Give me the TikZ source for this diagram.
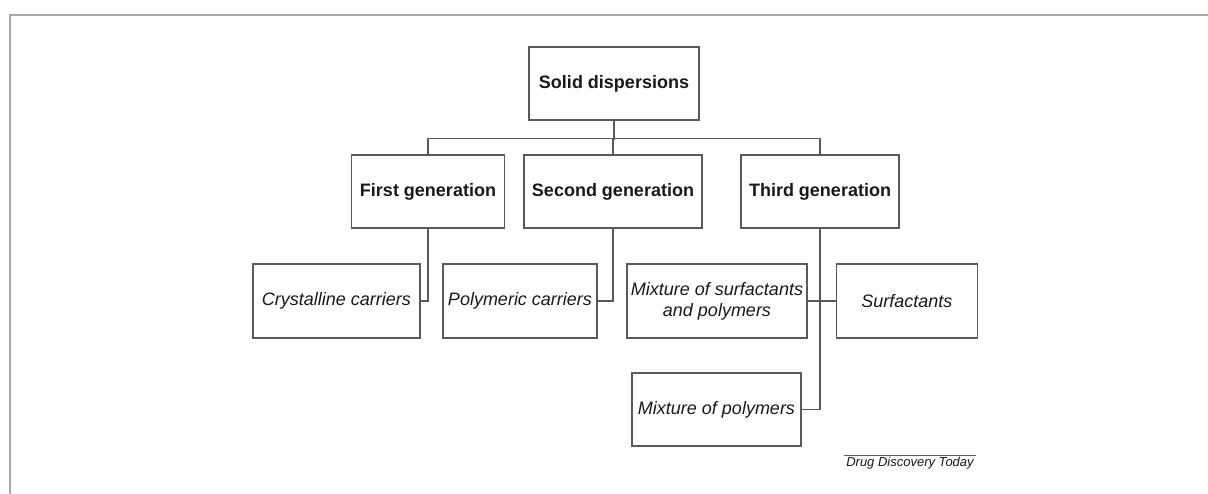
\documentclass[tikz,border=0pt]{standalone}
\usepackage{fontspec}
\setmainfont{Liberation Sans}
\usetikzlibrary{positioning}
\definecolor{framegray}{HTML}{A8A8A8}
\definecolor{boxgray}{HTML}{5A5A5A}
\tikzset{gen/.style={draw=boxgray,font=\fontsize{18}{21}\selectfont\bfseries,minimum height=73pt,inner sep=2pt}}
\tikzset{kind/.style={draw=boxgray,font=\fontsize{18}{21}\selectfont\itshape,minimum height=74pt,inner sep=2pt,align=center}}

\begin{document}
\begin{tikzpicture}[x=1pt,y=-1pt,line width=1.4pt,text=black!90]
        \useasboundingbox (0,0) rectangle (1208,494);
        \draw[framegray,line width=2pt] (10,494) -- (10,15) -- (1208,15);
        \node[gen,minimum width=170pt] (sd) at (614,83.5) {Solid dispersions};
        \node[gen,minimum width=153pt] (g1) at (428,191.5) {First generation};
        \node[gen,minimum width=178pt] (g2) at (613,191.5) {Second generation};
        \node[gen,minimum width=158pt] (g3) at (820,191.5) {Third generation};
        \node[kind,minimum width=167pt] (cc)  at (336.5,301) {Crystalline carriers};
        \node[kind,minimum width=154pt] (pc)  at (520,301) {Polymeric carriers};
        \node[kind,minimum width=180pt] (msp) at (717,301) {Mixture of surfactants\\and polymers};
        \node[kind,minimum width=141pt] (sf)  [right=28pt of msp] {Surfactants};
        \node[kind,minimum width=169pt,minimum height=73pt] (mp) at (716.5,409.5) {Mixture of polymers};
        \path[draw=boxgray]
            (sd.south) -- ++(0,19)
            (g1.north) -- ++(0,-16) -| (g3.north)
            (g2.north) -- ++(0,-16)
            (g1.south) |- (cc.east)
            (g2.south) |- (pc.east)
            (g3.south) |- (mp.east)
            (msp.east) -- (sf.west)
        ;
        \node[font=\fontsize{13}{15}\selectfont\itshape,inner sep=1.5pt] (ddt) at (910,463) {Drug Discovery Today};
        \draw[boxgray,line width=1pt] ([yshift=-1pt]ddt.north west) -- ([yshift=-1pt]ddt.north east);
    \end{tikzpicture}
\end{document}
